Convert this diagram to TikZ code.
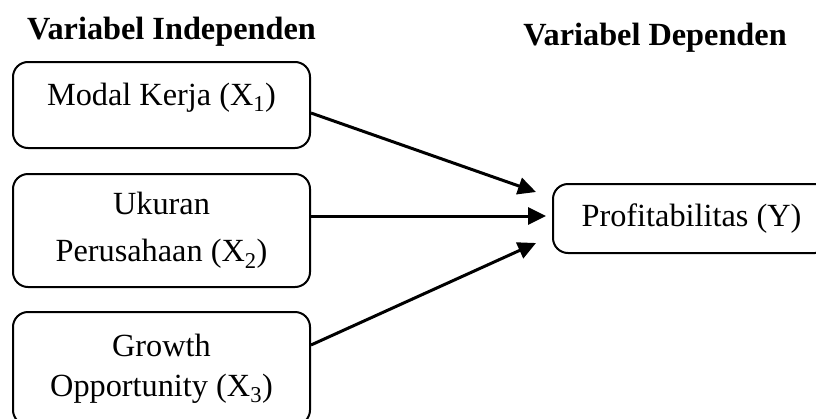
\documentclass[tikz,border=0pt]{standalone}
\usepackage{fontspec}
\setmainfont{Liberation Serif}
\usetikzlibrary{arrows.meta}

\begin{document}
\begin{tikzpicture}[x=1pt,y=-1pt,font=\fontsize{32.3}{40}\selectfont,
  judul/.style={font=\fontsize{32.3}{40}\selectfont\bfseries,anchor=base},
  kotak/.style={draw,line width=2pt,rounded corners=15pt,minimum width=297pt,minimum height=113pt,align=center,inner sep=0pt},
  panah/.style={-{Triangle[length=18pt,width=17pt]},line width=3pt}]
\useasboundingbox (0,0) rectangle (816,418);
\clip (0,0) rectangle (816,418);

\node[judul] (judulX) at (171.5,39) {Variabel Independen};
\node[judul] (judulY) at (655,45) {Variabel Dependen};

\node[kotak,minimum height=86pt,text height=0.7em,text depth=0.7em] (x1) at (161.5,105) {Modal Kerja (X\textsubscript{1})};
\node[kotak] (x2) at (161.5,230.5) {Ukuran\\[7pt]Perusahaan (X\textsubscript{2})};
\node[kotak] (x3) at (161.5,368.5) {Growth\\Opportunity (X\textsubscript{3})};
\node[kotak,minimum width=277pt,minimum height=69pt] (profit) at (691.5,218.5) {Profitabilitas (Y)};

\draw[panah] ([shift={(0,8)}]x1.east) -- ([shift={(-16,-26.5)}]profit.west);
\draw[panah] ([shift={(0,-14.5)}]x2.east) -- ([shift={(-6,-2.5)}]profit.west);
\draw[panah] ([shift={(0,-23.5)}]x3.east) -- ([shift={(-16,24.5)}]profit.west);

\end{tikzpicture}
\end{document}
